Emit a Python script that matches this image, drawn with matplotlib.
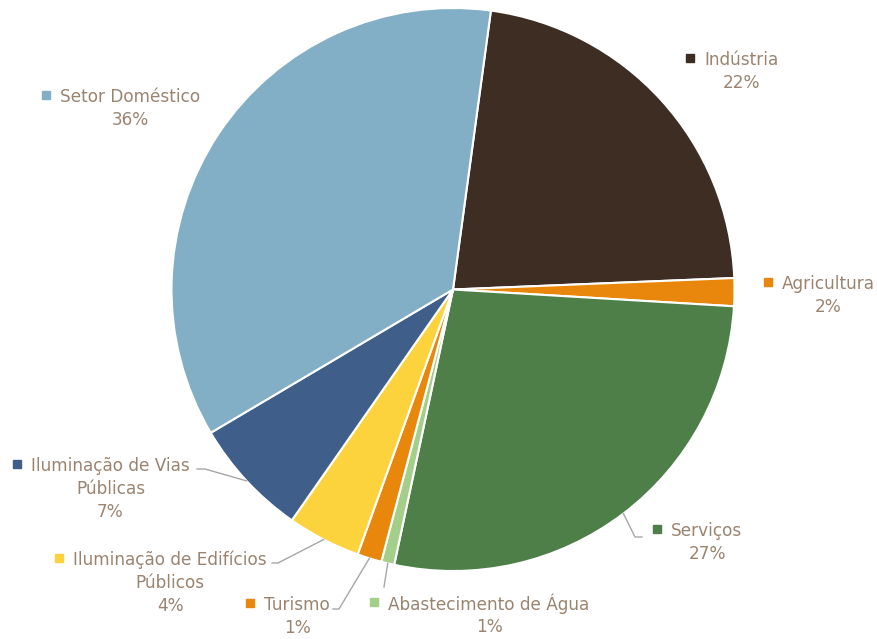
import numpy as np
import matplotlib.pyplot as plt

# data, clockwise from the top
sectors = ["Indústria", "Agricultura", "Serviços", "Abastecimento de Água",
           "Turismo", "Iluminação de Edifícios Públicos",
           "Iluminação de Vias Públicas", "Setor Doméstico"]
shares = [22.2, 1.6, 27.4, 0.75, 1.4, 4.2, 6.8, 35.65]
label_lines = [["Indústria"], ["Agricultura"], ["Serviços"],
               ["Abastecimento de Água"], ["Turismo"],
               ["Iluminação de Edifícios", "Públicos"],
               ["Iluminação de Vias", "Públicas"], ["Setor Doméstico"]]
colors = ["#3E2D23", "#E8870B", "#4F7F49", "#A3CF8A",
          "#E8870B", "#FDD33D", "#3F5F8A", "#82AFC5"]

# layout in pixels (y down)
W, H = 877, 639
cx, cy, R = 453, 289.5, 281.5
label_pos = [(741.5, 60), (828, 284), (707, 531), (489, 604),
             (297, 605), (170, 560), (110.5, 466), (130, 97)]
leader_pts = {2: [(642, 537), (635, 537)],
              3: [(384, 587)],
              4: [(333, 609), (339, 609)],
              5: [(272, 563), (278, 563)],
              6: [(197, 469), (205, 469)]}
txt_color = "#9A8470"
line_h = 23

fig = plt.figure(figsize=(W / 100, H / 100), dpi=100)
ax = fig.add_axes([0, 0, 1, 1])

# y axis is inverted, so counterclockwise in data is clockwise on screen
wedges, _ = ax.pie(shares, colors=colors, startangle=-82.26, counterclock=True,
                   center=(cx, cy), radius=R,
                   wedgeprops=dict(edgecolor="white", linewidth=1.5))
ax.set_xlim(0, W)
ax.set_ylim(H, 0)
ax.set_aspect("equal")
ax.axis("off")

renderer = fig.canvas.get_renderer()
for i, w in enumerate(wedges):
    x, y = label_pos[i]
    lines = label_lines[i] + [f"{round(shares[i])}%"]
    for k, s in enumerate(lines):
        t = ax.text(x, y + k * line_h, s, ha="center", va="center",
                    fontsize=12.2, color=txt_color, family="DejaVu Sans")
        if k == 0:
            bb = t.get_window_extent(renderer)
            x0 = ax.transData.inverted().transform((bb.x0, 0))[0]
            ax.plot(x0 - 14, y - 2, marker="s", markersize=5.5,
                    color=colors[i], linestyle="none")
    if i in leader_pts:
        mid = np.deg2rad((w.theta1 + w.theta2) / 2)
        ex, ey = cx + R * np.cos(mid), cy + R * np.sin(mid)
        pts = leader_pts[i] + [(ex, ey)]
        ax.plot([p[0] for p in pts], [p[1] for p in pts],
                color="#A6A6A6", lw=1)

fig.savefig("out.png", dpi=100)
